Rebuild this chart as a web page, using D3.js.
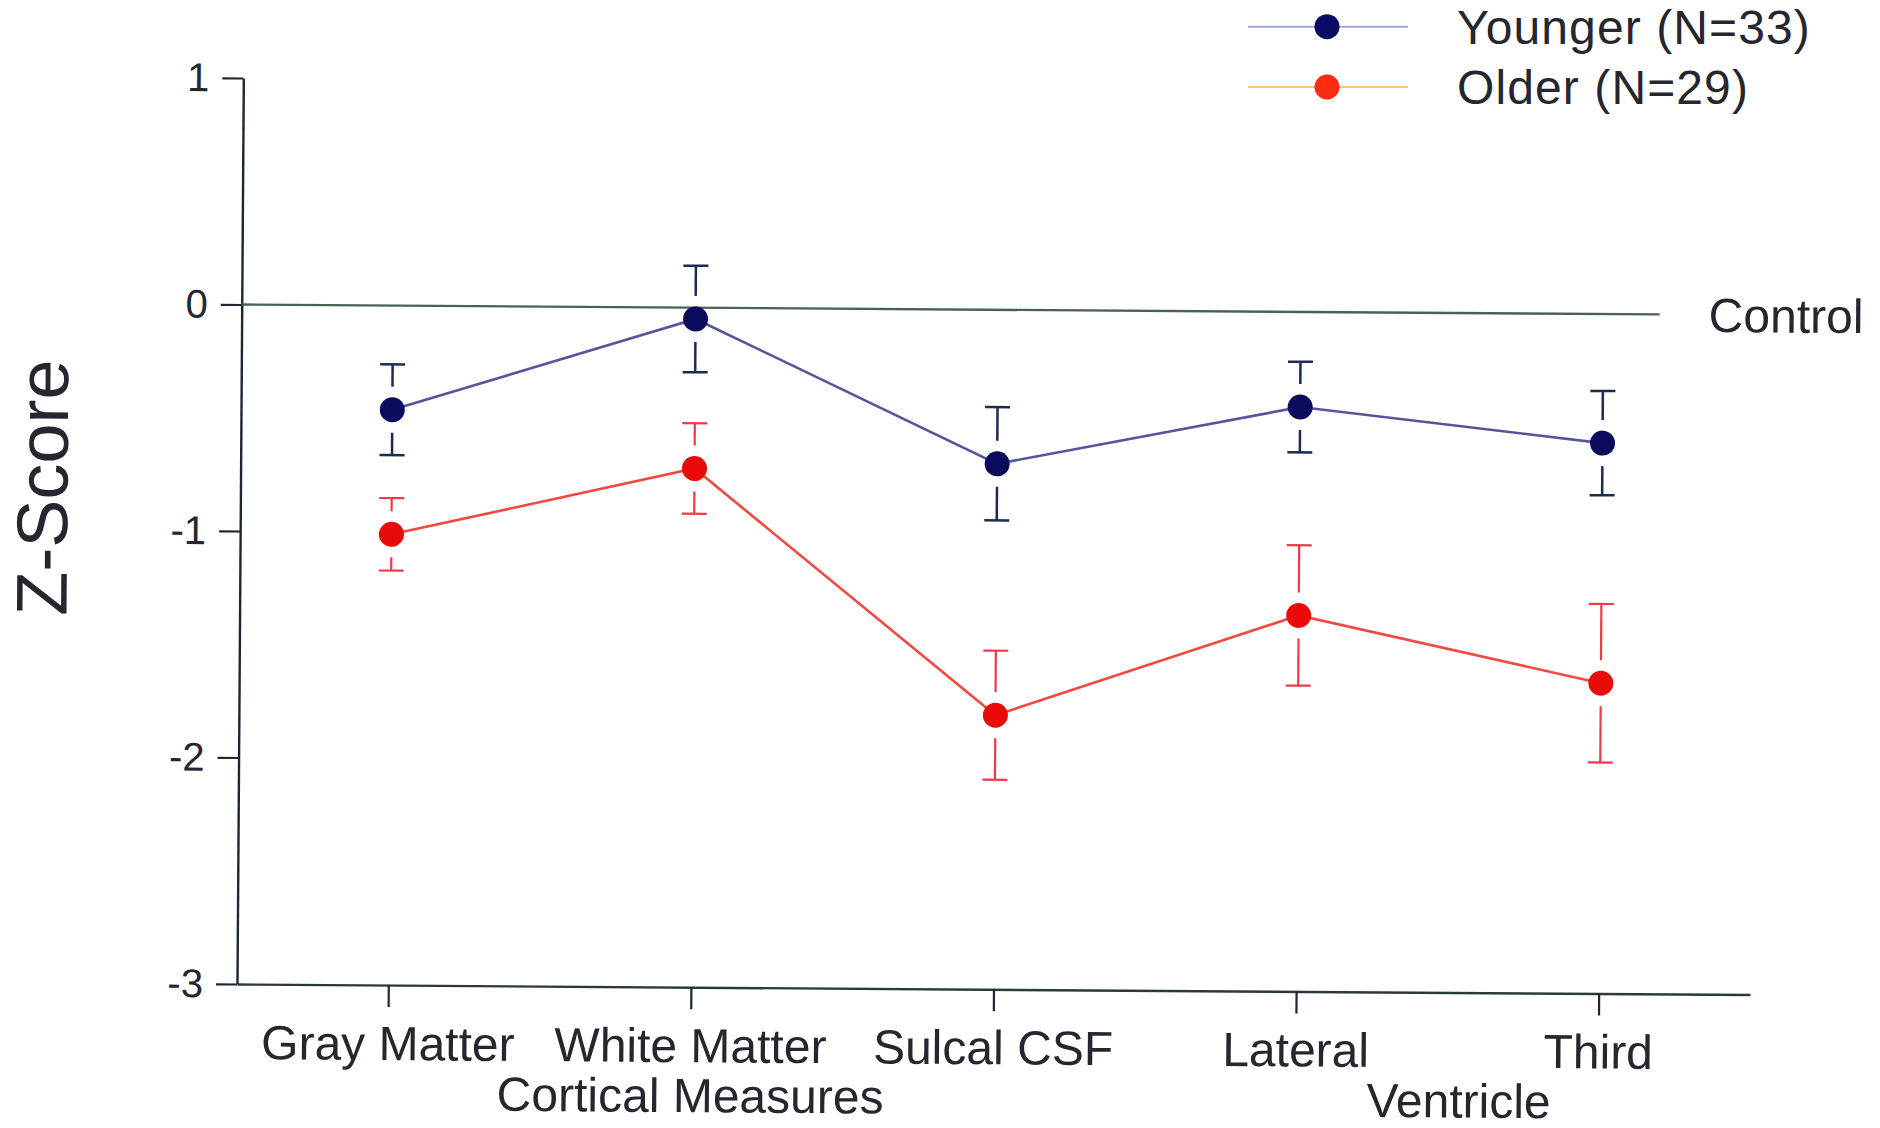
<!DOCTYPE html>
<html>
<head>
<meta charset="utf-8">
<script src="https://cdn.jsdelivr.net/npm/d3@7"></script>
<style>
  html, body { margin: 0; padding: 0; background: #ffffff; }
  svg { display: block; }
  text { font-family: "Liberation Sans", Arial, Helvetica, sans-serif; fill: #26262e; }
</style>
</head>
<body>
<script>
// Regional brain volumes expressed as z-scores relative to controls
const categories = ["Gray Matter", "White Matter", "Sulcal CSF", "Lateral", "Third"];
const groupLabels = ["Cortical Measures", "Ventricle"];
const groupMembers = [["Gray Matter", "White Matter", "Sulcal CSF"], ["Lateral", "Third"]];
const seriesNames = ["Younger (N=33)", "Older (N=29)"];
const youngerMean = [-0.46, -0.05, -0.68, -0.42, -0.57];
const youngerSE   = [0.20, 0.235, 0.25, 0.20, 0.23];
const olderMean   = [-1.01, -0.71, -1.79, -1.34, -1.63];
const olderSE     = [0.16, 0.20, 0.285, 0.31, 0.35];
const yTicks = [-3, -2, -1, 0, 1];
const referenceValue = 0;
const referenceLabel = "Control";
const yTitle = "Z-Score";

const W = 1880, H = 1128;
const origin = { x: 237, y: 984 };

const svg = d3.select("body").append("svg")
  .attr("width", W).attr("height", H)
  .attr("viewBox", `0 0 ${W} ${H}`);

const x = d3.scalePoint().domain(categories).range([origin.x, 1750]).padding(0.5);
const y = d3.scaleLinear().domain([-3, 1]).range([origin.y, 78]);

const styles = [
  { line: "#55559a", dot: "#0b0b5e", bar: "#1d2b52", barW: 2.5, legendLine: "#9aaada", legendDot: "#0b0b66" },
  { line: "#f04a40", dot: "#ea0a0a", bar: "#ec3a48", barW: 2.2, legendLine: "#f6c48e", legendDot: "#ff2c10" }
];
const series = [
  { name: seriesNames[0], mean: youngerMean, se: youngerSE },
  { name: seriesNames[1], mean: olderMean, se: olderSE }
];

// the plotted figure sits very slightly tilted on the page
const chart = svg.append("g").attr("transform", `rotate(0.4, ${origin.x}, ${origin.y})`);

// y axis
const yAxis = chart.append("g")
  .attr("transform", `translate(${origin.x},0)`)
  .call(d3.axisLeft(y).tickValues(yTicks).tickSize(21).tickSizeOuter(0).tickPadding(13)
    .tickFormat(d => String(d)));
yAxis.select(".domain").attr("stroke", "#1e2634").attr("stroke-width", 2.4);
yAxis.selectAll(".tick line").attr("stroke", "#1e2634").attr("stroke-width", 2.2);
yAxis.selectAll(".tick text").attr("font-size", 40).attr("fill", "#30303a")
  .attr("font-family", "'Liberation Sans', Arial, sans-serif");

// x axis
const xAxis = chart.append("g")
  .attr("transform", `translate(0,${origin.y})`)
  .call(d3.axisBottom(x).tickSize(22).tickSizeOuter(0).tickFormat(""));
xAxis.select(".domain").attr("stroke", "#2a3a38").attr("stroke-width", 2.4);
xAxis.selectAll(".tick line").attr("stroke", "#1e2634").attr("stroke-width", 2.2);

// category labels
chart.append("g").selectAll("text").data(categories).join("text")
  .attr("x", d => x(d)).attr("y", origin.y + 75)
  .attr("text-anchor", "middle").attr("font-size", 48)
  .text(d => d);

// group labels under the categories
const groupDx = [0, 12];
chart.append("g").selectAll("text").data(groupLabels).join("text")
  .attr("x", (d, i) => d3.mean(groupMembers[i], c => x(c)) + groupDx[i])
  .attr("y", origin.y + 125)
  .attr("text-anchor", "middle").attr("font-size", 48)
  .text(d => d);

// y title
chart.append("text")
  .attr("transform", "translate(64, 489) rotate(-90)")
  .attr("text-anchor", "middle").attr("font-size", 72)
  .text(yTitle);

// control reference line
const refEnd = 1655;
chart.append("line")
  .attr("x1", origin.x).attr("x2", refEnd)
  .attr("y1", y(referenceValue)).attr("y2", y(referenceValue))
  .attr("stroke", "#4a6254").attr("stroke-width", 2.4);
chart.append("text")
  .attr("x", refEnd + 49).attr("y", y(referenceValue)).attr("dy", "0.36em")
  .attr("font-size", 48)
  .text(referenceLabel);

// series: lines, error bars, markers
const r = 12.5, gap = 23, capHalf = 12.5;
const lineGen = d3.line().x(d => x(d.c)).y(d => y(d.v));

series.forEach((s, si) => {
  const st = styles[si];
  const pts = categories.map((c, i) => ({ c, v: s.mean[i], e: s.se[i] }));
  const g = chart.append("g");

  g.append("path").datum(pts)
    .attr("d", lineGen)
    .attr("fill", "none").attr("stroke", st.line).attr("stroke-width", 2.6);

  const bars = g.append("g").selectAll("g").data(pts).join("g");
  // upper whisker
  bars.append("line")
    .attr("x1", d => x(d.c)).attr("x2", d => x(d.c))
    .attr("y1", d => y(d.v + d.e)).attr("y2", d => y(d.v) - gap)
    .attr("stroke", st.bar).attr("stroke-width", st.barW);
  bars.append("line")
    .attr("x1", d => x(d.c) - capHalf).attr("x2", d => x(d.c) + capHalf)
    .attr("y1", d => y(d.v + d.e)).attr("y2", d => y(d.v + d.e))
    .attr("stroke", st.bar).attr("stroke-width", st.barW);
  // lower whisker
  bars.append("line")
    .attr("x1", d => x(d.c)).attr("x2", d => x(d.c))
    .attr("y1", d => y(d.v) + gap).attr("y2", d => y(d.v - d.e))
    .attr("stroke", st.bar).attr("stroke-width", st.barW);
  bars.append("line")
    .attr("x1", d => x(d.c) - capHalf).attr("x2", d => x(d.c) + capHalf)
    .attr("y1", d => y(d.v - d.e)).attr("y2", d => y(d.v - d.e))
    .attr("stroke", st.bar).attr("stroke-width", st.barW);

  g.append("g").selectAll("circle").data(pts).join("circle")
    .attr("cx", d => x(d.c)).attr("cy", d => y(d.v)).attr("r", r)
    .attr("fill", st.dot);
});

// legend
const legend = svg.append("g");
const legendY = d3.scalePoint().domain(seriesNames).range([26.7, 87]);
seriesNames.forEach((name, i) => {
  const st = styles[i];
  const ly = legendY(name);
  legend.append("line")
    .attr("x1", 1248).attr("x2", 1408).attr("y1", ly).attr("y2", ly)
    .attr("stroke", st.legendLine).attr("stroke-width", 2);
  legend.append("circle").attr("cx", 1327).attr("cy", ly).attr("r", 12.5)
    .attr("fill", st.legendDot);
  legend.append("text")
    .attr("x", 1457).attr("y", ly).attr("dy", "0.36em")
    .attr("font-size", 48).attr("letter-spacing", 1.1)
    .text(name);
});
</script>
</body>
</html>
